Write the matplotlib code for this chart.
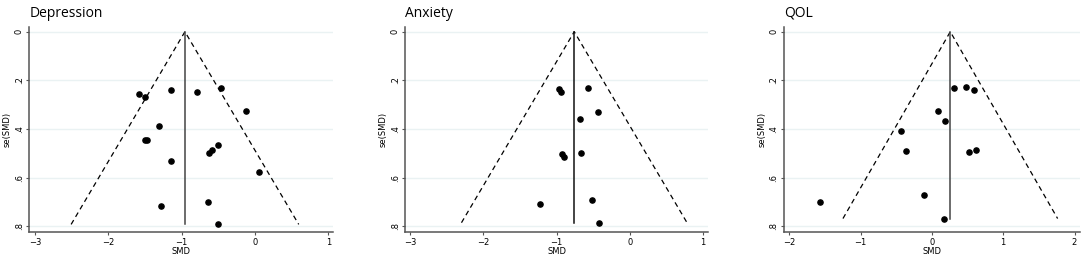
import numpy as np
import matplotlib
matplotlib.use('Agg')
import matplotlib.pyplot as plt

titles = ['Depression', 'Anxiety', 'QOL']

dep_smd = [-1.577, -1.495, -1.145, -0.791, -0.464, -0.123, -1.314, -1.505, -1.477,
           -0.500, -0.582, -0.623, -1.150, 0.055, -0.641, -1.286, -0.509]
dep_se = [0.258, 0.270, 0.241, 0.247, 0.232, 0.325, 0.388, 0.447, 0.445,
          0.466, 0.485, 0.499, 0.530, 0.578, 0.701, 0.715, 0.792]

anx_smd = [-0.968, -0.936, -0.568, -0.432, -0.682, -0.923, -0.905, -0.668, -0.523, -1.232, -0.427]
anx_se = [0.237, 0.248, 0.233, 0.329, 0.359, 0.503, 0.514, 0.500, 0.692, 0.710, 0.785]

qol_smd = [0.309, 0.473, 0.595, 0.089, 0.183, -0.436, -0.361, 0.520, 0.614, -0.108, -1.569, 0.169]
qol_se = [0.230, 0.229, 0.241, 0.326, 0.367, 0.410, 0.489, 0.495, 0.486, 0.673, 0.699, 0.768]

pooled = [-0.955, -0.759, 0.258]
line_colors = ['#444444', '#111111', '#444444']

xticks = [[-3, -2, -1, 0, 1], [-3, -2, -1, 0, 1], [-2, -1, 0, 1, 2]]
xlims = [(-3.078, 1.065), (-3.064, 1.07), (-2.074, 2.077)]
yticks = [0, 0.2, 0.4, 0.6, 0.8]
ylabels = ['0', '.2', '.4', '.6', '.8']

data = [(dep_smd, dep_se), (anx_smd, anx_se), (qol_smd, qol_se)]

positions = [
    [29.3 / 1084, 27.7 / 260, 303.7 / 1084, 205.6 / 260],
    [405.3 / 1084, 27.7 / 260, 303.0 / 1084, 205.6 / 260],
    [784.0 / 1084, 27.7 / 260, 296.0 / 1084, 205.6 / 260],
]

fig = plt.figure(figsize=(10.84, 2.6), dpi=100)
fig.patch.set_facecolor('white')

for i in range(3):
    ax = fig.add_axes(positions[i])
    smd, se = data[i]
    mu = pooled[i]
    semax = max(se)

    ax.grid(axis='y', color='#eaf2f3', linewidth=1.0)
    ax.set_axisbelow(True)

    # funnel
    ax.plot([mu - 1.96 * semax, mu, mu + 1.96 * semax], [semax, 0, semax],
            color='black', linestyle=(0, (4, 3)), linewidth=0.9)
    ax.plot([mu, mu], [0, semax], color=line_colors[i], linewidth=1.1)
    ax.scatter(smd, se, s=14, color='black', zorder=3)

    ax.set_xlim(*xlims[i])
    ax.set_ylim(0.8245, -0.0206)
    ax.set_xticks(xticks[i])
    ax.set_xticklabels([str(t).replace('-', '\u2212') for t in xticks[i]], fontsize=6)
    ax.set_yticks(yticks)
    ax.set_yticklabels(ylabels, fontsize=6, rotation=90, va='center')

    for s in ['top', 'right']:
        ax.spines[s].set_visible(False)
    for s in ['left', 'bottom']:
        ax.spines[s].set_color('#555555')
        ax.spines[s].set_linewidth(1.1)
    ax.tick_params(length=2.5, width=0.8, color='#555555', pad=1.5)

    ax.set_xlabel('SMD', fontsize=6, labelpad=0)
    ax.set_ylabel('se(SMD)', fontsize=6, labelpad=2)
    ax.set_title(titles[i], loc='left', fontsize=10, pad=7, family='Open Sans')

fig.savefig('out.png', dpi=100)
